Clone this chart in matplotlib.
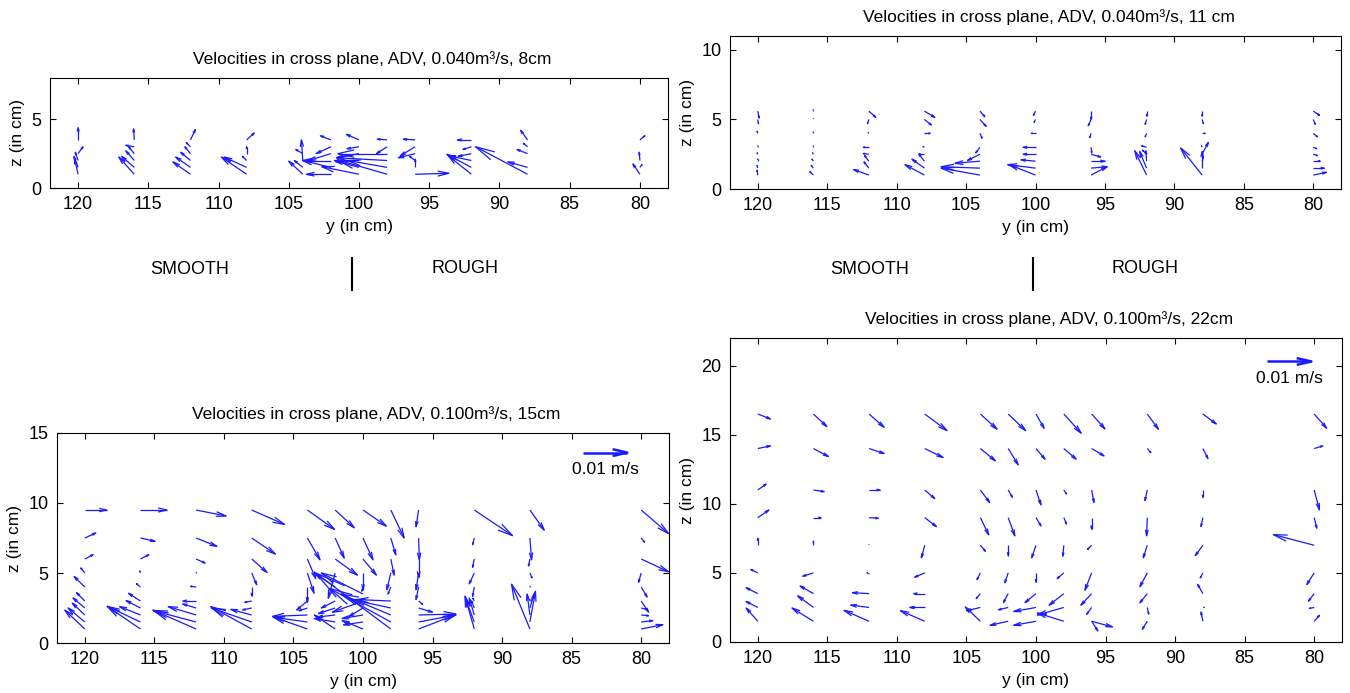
import numpy as np
import matplotlib
matplotlib.use("Agg")
import matplotlib.pyplot as plt
from matplotlib.collections import LineCollection

plt.rcParams['font.family'] = ['Liberation Sans', 'DejaVu Sans']

# arrow components are in plot cm; REF_LEN plot cm == 0.01 m/s
# v > 0 points towards larger y (left on the reversed axis), w > 0 points up
REF_LEN = 3.2
REF_LABEL = "0.01 m/s"
X_TICKS = [120, 115, 110, 105, 100, 95, 90, 85, 80]

# ---- 0.040 m3/s, 8 cm ----
a_y = [120, 120, 120, 120, 120,
       116, 116, 116, 116, 116, 116,
       112, 112, 112, 112, 112, 112,
       108, 108, 108, 108, 108,
       104, 104, 104, 104,
       102, 102, 102, 102, 102, 102,
       100, 100, 100, 100, 100, 100,
       98, 98, 98, 98, 98, 98,
       96, 96, 96, 96, 96, 96,
       92, 92, 92, 92, 92, 92,
       88, 88, 88, 88, 88,
       80, 80, 80, 80]
a_z = [1.0, 1.5, 2.0, 2.5, 3.5,
       1.0, 1.5, 2.0, 2.5, 3.0, 3.5,
       1.0, 1.5, 2.0, 2.5, 3.0, 3.5,
       1.0, 1.5, 2.0, 2.5, 3.5,
       1.0, 1.5, 2.0, 2.5,
       1.0, 1.5, 2.0, 2.5, 3.0, 3.5,
       1.0, 1.5, 2.0, 2.5, 3.0, 3.5,
       1.0, 1.5, 2.0, 2.5, 3.0, 3.5,
       1.0, 1.5, 2.0, 2.5, 3.0, 3.5,
       1.0, 1.5, 2.0, 2.5, 3.0, 3.5,
       1.0, 1.5, 2.5, 3.0, 3.5,
       1.0, 1.5, 2.0, 3.5]
a_v = [0.25, 0.3, 0.2, -0.35, 0.0,
       1.1, 0.9, 0.6, 0.4, 0.6, 0.05,
       1.25, 1.05, 0.7, 0.4, 0.3, -0.35,
       1.8, 1.6, 0.3, 0.0, -0.55,
       1.0, 0.6, 0.1, 0.5,
       1.75, 2.0, 2.0, 1.6, 1.05, 0.75,
       2.65, 1.75, 1.65, 1.6, 0.85, 0.9,
       3.55, 2.8, 3.6, 3.5, 0.75, 0.7,
       -2.4, 0.0, 0.4, 1.2, 1.05, 0.85,
       1.65, 1.75, 1.65, 0.95, 0.6, 1.0,
       3.7, 1.4, 0.75, 0.3, 0.5,
       0.5, -0.15, 0.05, -0.35]
a_w = [1.1, 0.8, 0.6, 0.5, 0.9,
       1.25, 0.8, 0.7, 0.5, 0.1, 0.8,
       0.9, 0.75, 0.6, 0.5, 0.3, 0.75,
       1.25, 0.75, 0.3, 0.5, 0.5,
       0.95, 0.5, 1.5, 0.3,
       0.0, 0.5, 0.0, -0.5, -0.5, 0.3,
       0.55, 0.5, -0.1, -0.3, -0.15, 0.4,
       1.05, 0.5, 0.2, 0.0, -0.5, 0.05,
       0.07, 0.6, 0.3, -0.3, -0.65, 0.05,
       1.35, 0.95, 0.35, -0.2, -0.2, 0.0,
       2.0, 0.4, 0.3, 0.25, 0.7,
       0.75, 0.2, 0.6, 0.3]

# ---- 0.040 m3/s, 11 cm ----
b_cols = [120, 116, 112, 108, 104, 100, 96, 92, 88, 80]
b_rows = [1.0, 1.5, 2.0, 2.5, 3.0, 4.0, 5.0, 5.6]
b_v = [[0.05, 0.05, 0.0, 0.05, 0.0, 0.05, -0.05, -0.1],
       [0.25, 0.15, 0.1, 0.05, 0.0, 0.0, 0.0, 0.0],
       [1.1, 0.35, 0.3, 0.4, 0.4, 0.05, 0.1, -0.5],
       [1.4, 0.9, 0.4, 0.4, 0.1, -0.4, -0.5, -0.75],
       [2.8, 2.8, 1.8, 0.9, 0.3, -0.15, -0.45, -0.35],
       [1.9, 2.0, 1.05, 0.9, 0.9, 0.3, 0.1, 0.15],
       [-1.15, -1.15, -1.0, -0.7, -0.05, 0.1, 0.2, 0.0],
       [0.85, 0.5, 0.05, 0.3, 0.35, 0.1, 0.1, 0.0],
       [1.55, 0.0, -0.1, -0.45, 0.05, -0.2, -0.1, 0.0],
       [-0.95, -0.8, -0.5, -0.3, -0.25, -0.3, -0.15, -0.45]]
b_w = [[0.35, 0.2, 0.15, 0.1, 0.1, 0.15, -0.3, -0.5],
       [0.25, 0.2, 0.15, 0.1, 0.1, 0.1, 0.05, 0.1],
       [0.4, 0.45, 0.4, 0.05, 0.0, 0.05, -0.3, -0.45],
       [0.75, 0.65, 0.5, 0.0, 0.05, 0.0, -0.4, -0.45],
       [0.5, 0.1, -0.15, -0.45, -0.4, -0.35, -0.5, -0.4],
       [0.75, 0.25, 0.1, 0.0, 0.0, 0.0, -0.2, -0.3],
       [0.6, 0.1, 0.0, -0.2, -0.4, -0.3, -0.45, -0.6],
       [1.75, 1.2, 0.75, 0.3, 0.1, -0.25, -0.35, -0.35],
       [1.95, 1.2, 0.3, 0.85, 0.1, 0.0, -0.3, -0.35],
       [0.2, 0.0, 0.0, -0.1, -0.1, -0.25, -0.35, -0.3]]

# ---- 0.100 m3/s, 15 cm ----
c_cols = [120, 116, 112, 108, 104, 102, 100, 98, 96, 92, 88, 80]
c_rows = [1.0, 1.5, 2.0, 2.5, 3.0, 4.0, 5.0, 6.0, 7.5, 9.5]
c_v = [[1.44, 1.2, 0.9, 0.85, 0.6, 0.77, 0.29, -0.6, -0.79, -1.56],
       [2.4, 2.35, 1.5, 1.03, 0.86, 0.29, 0.05, -0.6, -1.05, -1.9],
       [3.1, 3.1, 2.0, 0.96, 0.96, 0.4, 0.0, -0.65, -1.5, -2.16],
       [2.95, 2.9, 1.5, 0.65, 0.5, 0.0, -0.36, -1.1, -1.7, -2.35],
       [2.45, 2.45, 2.5, 0.6, 0.77, 0.0, -0.48, -0.6, -0.91, -1.96],
       [1.5, 1.5, 1.3, 1.2, 1.0, 1.5, 0.5, -1.6, -0.65, -1.37],
       [1.5, 1.4, 1.5, 1.0, 2.2, 0.1, 0.0, -0.96, -0.72, -1.68],
       [5.4, 4.4, 3.6, 2.8, 2.4, 0.2, 0.29, -0.24, -0.36, -0.96],
       [-2.68, -2.68, -2.68, -1.0, -0.29, 0.19, 0.19, 0.0, -0.05, 0.19],
       [0.67, 0.6, 0.36, 0.2, 0.1, 0.12, 0.36, 0.12, 0.12, -2.75],
       [1.32, -0.4, 0.2, -0.3, 0.0, 0.0, -0.15, 0.1, -0.12, -1.03],
       [-1.56, -0.84, -0.53, -0.4, -0.53, -0.43, 0.19, -1.96, -0.24, -1.96]]
c_w = [[1.35, 1.0, 0.85, 0.72, 0.6, 0.75, 0.36, 0.31, 0.36, 0.0],
       [1.63, 1.1, 0.6, 0.53, 0.55, 0.24, 0.15, 0.31, -0.24, 0.0],
       [1.35, 0.82, 0.6, 0.29, 0.0, 0.05, 0.05, -0.29, -0.6, -0.43],
       [1.6, 1.0, 0.4, -0.14, -0.1, -0.62, -0.84, -0.96, -1.15, -1.03],
       [0.86, 0.34, -0.1, -0.2, -0.65, -1.1, -1.44, -1.39, -1.56, -1.39],
       [1.0, 0.25, -0.15, -0.4, -0.5, 1.0, -1.8, -1.15, -1.44, -1.27],
       [0.6, -0.2, -0.25, -0.6, -0.8, -0.3, -1.2, -1.15, -1.56, -1.15],
       [4.0, 2.4, 1.5, 0.6, 0.1, -0.5, -1.2, -1.15, -1.2, -2.0],
       [1.03, 0.5, 0.07, -0.3, -0.24, -0.9, -1.2, -1.32, -1.56, -1.2],
       [2.35, 1.6, 1.2, 0.5, 0.2, -0.67, -0.77, -0.6, -0.48, -1.83],
       [3.2, 2.2, 1.5, 1.0, 0.1, 0.05, -0.35, -0.5, -1.56, -1.44],
       [0.31, 0.1, -0.05, -0.1, -0.79, -0.72, -0.67, -0.91, -0.3, -1.68]]
c_extra = [100, 3.5, 3.0, 1.5]  # y, z, v, w

# ---- 0.100 m3/s, 22 cm ----
d_cols = [120, 116, 112, 108, 104, 102, 100, 98, 96, 92, 88, 80]
d_rows = [1.5, 2.5, 3.5, 5.0, 7.0, 9.0, 11.0, 14.0, 16.5]
d_v = [[0.84, 0.84, 0.84, 0.5, 0.0, -0.8, -0.6, -0.91, -0.91],
       [1.54, 1.13, 0.96, 0.77, 0.0, -0.53, -0.77, -1.08, -0.96],
       [1.8, 1.32, 1.2, 0.15, 0.0, -0.67, -0.79, -1.08, -1.08],
       [1.75, 1.08, 0.79, 0.72, 0.24, -0.84, -0.72, -1.32, -1.6],
       [1.08, 1.0, 0.3, 0.24, -0.36, -0.6, -0.67, -1.08, -1.2],
       [1.3, 0.7, 0.34, 0.24, 0.0, -0.48, -0.31, -0.72, -1.25],
       [1.6, 1.6, 0.79, 0.0, 0.31, -0.36, -0.36, -0.65, -0.58],
       [1.9, 1.9, 1.06, 0.48, 0.07, -0.19, -0.19, -0.89, -1.25],
       [-1.5, 0.36, 0.77, 0.48, 0.3, 0.0, -0.17, -0.89, -0.96],
       [0.36, -0.1, 0.53, 0.53, 0.29, 0.05, 0.17, -0.26, -0.8],
       [0.14, -0.1, 0.38, 0.19, 0.55, 0.14, 0.0, -0.36, -0.96],
       [-0.38, 0.34, 0.41, 0.53, 2.93, -0.19, -0.38, -0.62, -0.9]]
d_w = [[0.96, 0.43, 0.43, 0.25, 0.5, 0.55, 0.43, 0.19, -0.36],
       [0.96, 0.84, 0.55, -0.24, 0.3, 0.0, -0.12, -0.58, -0.91],
       [0.79, 0.17, 0.07, 0.0, 0.05, -0.05, 0.0, -0.36, -0.96],
       [0.77, 0.0, 0.0, -0.31, -0.91, -0.65, -0.62, -0.65, -1.2],
       [1.03, -0.24, -0.36, -0.48, -0.43, -1.25, -0.91, -0.89, -1.1],
       [-0.29, -0.17, -0.65, -0.72, -0.75, -1.32, -0.53, -1.18, -1.2],
       [-0.29, -0.29, -0.65, -0.67, -0.91, -0.6, -1.08, -0.77, -1.03],
       [0.6, -0.55, -0.84, -0.41, -0.79, -0.46, -0.29, -0.77, -1.39],
       [-0.41, -0.5, -0.84, -1.25, -0.3, -0.84, -0.91, -0.53, -1.08],
       [-0.58, -0.48, -0.67, -1.0, -0.91, -1.32, -0.77, -0.29, -1.1],
       [0.67, 0.0, 0.67, -0.36, -0.75, -0.65, -0.53, -0.72, -0.72],
       [0.43, -0.07, -0.55, -0.84, 0.77, -0.77, -1.44, 0.19, -1.03]]
d_extra = [96, 1.5, -0.45, -0.7]


def grid_arrows(cols, rows, v, w):
    yy, zz = np.meshgrid(cols, rows, indexing='ij')
    return yy.ravel(), zz.ravel(), np.ravel(v), np.ravel(w)


def mquiver(ax, y, z, v, w, lw=0.9, alpha=0.33, beta=0.23):
    # matlab-like arrows: shaft plus two barbs scaled with arrow length
    y, z, v, w = (np.asarray(a, float) for a in (y, z, v, w))
    ty, tz = y + v, z + w
    segs = []
    for i in range(len(y)):
        segs.append([(y[i], z[i]), (ty[i], tz[i])])
        b1 = (ty[i] - alpha * (v[i] + beta * w[i]), tz[i] - alpha * (w[i] - beta * v[i]))
        b2 = (ty[i] - alpha * (v[i] - beta * w[i]), tz[i] - alpha * (w[i] + beta * v[i]))
        segs.append([b1, (ty[i], tz[i]), b2])
    ax.add_collection(LineCollection(segs, colors='#1a1aff', linewidths=lw))


def setup(ax, title, zmax, zticks):
    ax.set_xlim(122, 78)
    ax.set_ylim(0, zmax)
    ax.set_xticks(X_TICKS)
    ax.set_yticks(zticks)
    ax.tick_params(direction='in', top=True, right=True, length=4, labelsize=13, pad=6)
    ax.set_xlabel('y (in cm)', fontsize=12.5, labelpad=4)
    ax.set_ylabel('z (in cm)', fontsize=12.5, labelpad=5)
    ax.set_title(title, fontsize=12.5, pad=10, x=0.522)


W, H = 1350, 693
fig = plt.figure(figsize=(W / 100, H / 100), dpi=100)


def px_axes(l, t, r, b):
    return fig.add_axes([l / W, 1 - b / H, (r - l) / W, (b - t) / H])


axA = px_axes(50, 78, 668, 188)
axB = px_axes(730, 36, 1341, 189)
axC = px_axes(57, 433, 669, 643)
axD = px_axes(730, 338, 1342, 642)

setup(axA, 'Velocities in cross plane, ADV, 0.040m³/s, 8cm', 8, [0, 5])
setup(axB, 'Velocities in cross plane, ADV, 0.040m³/s, 11 cm', 11, [0, 5, 10])
setup(axC, 'Velocities in cross plane, ADV, 0.100m³/s, 15cm', 15, [0, 5, 10, 15])
setup(axD, 'Velocities in cross plane, ADV, 0.100m³/s, 22cm', 22, [0, 5, 10, 15, 20])

mquiver(axA, a_y, a_z, a_v, a_w)
mquiver(axB, *grid_arrows(b_cols, b_rows, b_v, b_w))
yc, zc, vc, wc = grid_arrows(c_cols, c_rows, c_v, c_w)
mquiver(axC, np.append(yc, c_extra[0]), np.append(zc, c_extra[1]),
        np.append(vc, c_extra[2]), np.append(wc, c_extra[3]))
yd, zd, vd, wd = grid_arrows(d_cols, d_rows, d_v, d_w)
mquiver(axD, np.append(yd, d_extra[0]), np.append(zd, d_extra[1]),
        np.append(vd, d_extra[2]), np.append(wd, d_extra[3]))

# reference arrows
for ax, (ry, rz) in ((axC, (84.2, 13.6)), (axD, (83.4, 20.3))):
    mquiver(ax, [ry], [rz], [-REF_LEN], [0], lw=1.8)
    ax.text(ry - REF_LEN / 2, rz - 1.2, REF_LABEL, ha='center', va='center', fontsize=12.5)

# smooth / rough labels
for sx, lx, rx in ((190, 352, 465), (870, 1033, 1145)):
    fig.text(sx / W, 1 - 270 / H, 'SMOOTH', ha='center', va='center', fontsize=13)
    fig.text(rx / W, 1 - 268 / H, 'ROUGH', ha='center', va='center', fontsize=13)
    fig.add_artist(plt.Line2D([lx / W, lx / W], [1 - 258 / H, 1 - 290 / H],
                              transform=fig.transFigure, color='k', lw=1.5))

fig.savefig('out.png', dpi=100)
